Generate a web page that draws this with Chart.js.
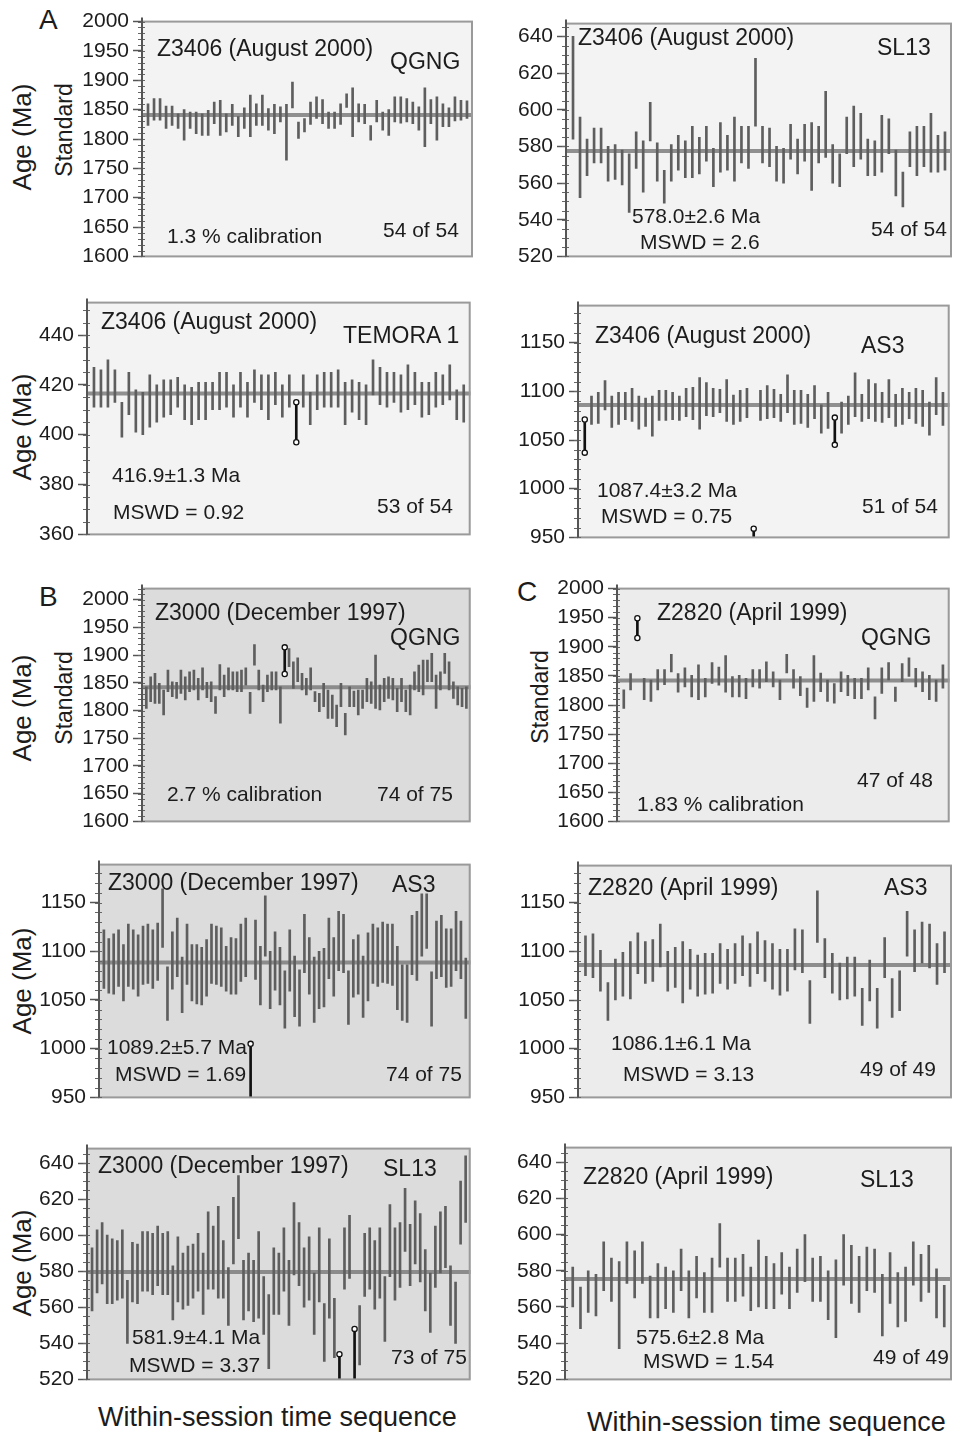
<!DOCTYPE html>
<html>
<head>
<meta charset="utf-8">
<script src="https://cdn.jsdelivr.net/npm/chart.js@4.4.1/dist/chart.umd.min.js"></script>
<style>
  body { margin: 0; width: 954px; height: 1436px; position: relative; overflow: hidden; background: #fff;
         font-family: "Liberation Sans", Arial, Helvetica, sans-serif; color: #1c1c1c; }
  canvas { position: absolute; }
  .t { position: absolute; white-space: nowrap; line-height: 1; font-size: 21px; }
  .h { font-size: 23px; }
  .big { font-size: 28px; }
  .xl { font-size: 27px; }
  .r { position: absolute; white-space: nowrap; line-height: 1; transform: translate(-50%, -50%) rotate(-90deg); }
</style>
</head>
<body>

<!-- panel letters and y titles -->
<div class="t big" style="left:39px;top:6px">A</div>
<div class="t big" style="left:39px;top:583px">B</div>
<div class="t big" style="left:517px;top:578px">C</div>
<div class="r" style="left:22px;top:137px;font-size:26px">Age (Ma)</div>
<div class="r" style="left:64px;top:130px;font-size:23px">Standard</div>
<div class="r" style="left:22px;top:427px;font-size:26px">Age (Ma)</div>
<div class="r" style="left:22px;top:708px;font-size:26px">Age (Ma)</div>
<div class="r" style="left:64px;top:698px;font-size:23px">Standard</div>
<div class="r" style="left:540px;top:697px;font-size:23px">Standard</div>
<div class="r" style="left:22px;top:981px;font-size:26px">Age (Ma)</div>
<div class="r" style="left:22px;top:1263px;font-size:26px">Age (Ma)</div>
<div class="t xl" style="left:98px;top:1404px">Within-session time sequence</div>
<div class="t xl" style="left:587px;top:1409px">Within-session time sequence</div>

<script>
// ---- values: lower / upper end of each error bar ----
const aQgngHi = [1860,1869,1869,1856,1856,1843,1850,1846,1846,1843,1849,1863,1866,1843,1859,1838,1853,1875,1860,1875,1852,1859,1855,1859,1897,1829,1835,1863,1872,1867,1846,1846,1860,1877,1887,1860,1859,1823,1866,1846,1850,1872,1872,1869,1863,1855,1887,1867,1872,1860,1853,1872,1866,1865];
const aQgngLo = [1823,1832,1832,1818,1823,1818,1798,1818,1809,1806,1806,1826,1806,1812,1823,1804,1818,1804,1823,1823,1815,1809,1829,1764,1853,1801,1812,1825,1835,1826,1818,1818,1825,1854,1804,1829,1826,1798,1829,1815,1806,1829,1827,1829,1826,1815,1787,1826,1798,1821,1821,1831,1832,1835];

const aSl13Hi = [640,596,584,590,590,580,581,578,576,588,583,604,582,567,581,586,583,591,585,591,579,593,586,596,591,591,628,591,590,580,579,592,584,592,593,591,610,581,576,596,602,598,584,583,597,595,578,566,588,591,591,598,586,588];
const aSl13Lo = [584,552,564,571,571,561,562,559,544,568,555,583,561,549,561,567,563,563,565,572,558,566,567,561,571,568,591,571,569,561,560,573,565,572,556,571,574,560,558,576,569,573,564,564,566,576,553,547,569,564,569,566,566,567];

const aTemHi = [427,426,430,426,413,425,418,417,424,420,422,422,423,420,419,421,421,421,425,425,420,425,421,426,424,424,425,420,424,413,424,417,424,425,425,426,421,422,421,420,430,427,425,425,424,428,425,421,421,425,424,428,418,420];
const aTemLo = [411,411,411,413,399,408,401,400,403,405,407,408,411,406,404,406,406,410,410,411,407,411,407,413,410,406,412,407,411,397,411,404,410,411,411,411,404,409,406,404,416,412,411,413,409,410,412,407,408,411,412,414,406,405];

const aAs3Hi = [1071,1095,1099,1111,1095,1099,1099,1103,1095,1093,1095,1101,1101,1099,1095,1103,1104,1114,1109,1103,1102,1112,1096,1101,1103,959,1101,1106,1102,1097,1117,1101,1101,1097,1106,1086,1099,1073,1089,1095,1119,1097,1112,1108,1099,1112,1097,1103,1099,1103,1101,1089,1114,1099];
const aAs3Lo = [1037,1066,1067,1081,1063,1066,1071,1069,1061,1064,1054,1070,1070,1071,1070,1074,1071,1061,1075,1074,1078,1069,1066,1069,1073,925,1070,1072,1073,1069,1078,1066,1067,1063,1072,1057,1062,1045,1057,1066,1074,1069,1072,1069,1068,1073,1064,1066,1072,1067,1064,1055,1076,1065];

const bQgngHi = [1843,1861,1867,1849,1837,1873,1852,1851,1873,1861,1870,1873,1858,1877,1851,1852,1825,1883,1864,1877,1870,1870,1873,1877,1833,1919,1873,1846,1864,1870,1870,1843,1914,1912,1888,1895,1867,1858,1877,1834,1831,1849,1837,1828,1810,1849,1795,1843,1835,1837,1837,1858,1852,1900,1846,1858,1861,1858,1840,1858,1837,1846,1870,1882,1891,1891,1903,1864,1870,1903,1888,1852,1843,1840,1843];
const bQgngLo = [1804,1816,1813,1813,1792,1834,1825,1822,1831,1819,1834,1837,1819,1837,1823,1816,1795,1837,1825,1837,1837,1834,1834,1846,1795,1882,1837,1816,1834,1837,1837,1777,1866,1879,1840,1852,1837,1828,1837,1816,1798,1807,1786,1786,1771,1807,1756,1807,1807,1792,1804,1816,1813,1804,1801,1816,1822,1819,1798,1816,1798,1792,1837,1834,1828,1852,1852,1804,1837,1867,1837,1822,1810,1807,1804];

const cQgngHi = [1826,1854,1949,1846,1843,1861,1861,1887,1854,1864,1851,1869,1846,1873,1865,1885,1849,1851,1846,1861,1861,1874,1857,1843,1887,1861,1849,1829,1885,1855,1843,1837,1857,1851,1846,1846,1864,1814,1864,1873,1831,1871,1881,1863,1857,1851,1843,1869];
const cQgngLo = [1794,1826,1915,1809,1806,1826,1835,1857,1822,1831,1814,1809,1814,1837,1834,1822,1814,1814,1811,1831,1829,1840,1831,1809,1855,1829,1816,1796,1806,1823,1806,1803,1823,1816,1811,1811,1826,1776,1820,1843,1806,1840,1849,1831,1823,1809,1806,1829];

const bAs3Hi = [1122,1113,1118,1122,1107,1128,1122,1117,1126,1128,1122,1129,1164,1084,1120,1134,1094,1128,1107,1107,1104,1112,1128,1126,1124,1105,1114,1113,1128,1134,1005,1132,1105,1157,1100,1120,1104,1080,1122,1095,1081,1138,1114,1094,1100,1103,1134,1114,1141,1138,1080,1112,1117,1095,1119,1128,1124,1130,1128,1128,1105,1086,1086,1137,1141,1159,1159,1079,1131,1137,1123,1123,1141,1131,1093];
const bAs3Lo = [1062,1057,1056,1064,1049,1064,1061,1054,1066,1067,1062,1070,1104,1029,1061,1074,1037,1066,1049,1046,1045,1054,1067,1066,1064,1059,1056,1056,1069,1074,930,1071,1045,1095,1041,1060,1045,1021,1059,1033,1023,1078,1056,1027,1041,1043,1072,1054,1080,1078,1025,1053,1056,1032,1049,1067,1064,1068,1067,1065,1040,1029,1027,1076,1070,1095,1103,1023,1072,1074,1063,1064,1080,1072,1031];

const cAs3Hi = [1116,1118,1101,1068,1092,1099,1110,1119,1110,1112,1128,1100,1104,1110,1102,1096,1098,1098,1108,1102,1108,1116,1108,1120,1111,1108,1102,1102,1123,1122,1070,1162,1113,1098,1088,1094,1094,1062,1091,1062,1114,1072,1080,1141,1122,1130,1128,1108,1120];
const cAs3Lo = [1075,1073,1059,1029,1050,1054,1051,1077,1067,1069,1084,1059,1063,1047,1061,1054,1056,1057,1067,1061,1067,1075,1064,1077,1069,1061,1055,1059,1081,1078,1026,1109,1073,1057,1050,1051,1054,1024,1049,1021,1073,1032,1039,1095,1079,1088,1083,1066,1078];

const bSl13Hi = [593,603,607,600,598,597,603,575,596,595,602,602,601,605,601,602,583,599,590,594,595,601,590,613,605,616,597,582,621,633,586,590,586,602,577,567,593,590,604,586,618,607,593,599,579,604,562,598,565,534,604,611,548,561,601,604,597,604,577,617,604,607,626,606,619,612,592,579,605,613,616,583,574,630,644];
const bSl13Lo = [558,568,573,562,562,564,565,540,563,562,569,569,567,572,567,567,553,563,559,561,565,569,556,570,570,565,565,550,584,598,553,558,552,554,545,526,556,556,569,550,578,572,560,564,545,563,530,554,532,512,570,576,512,528,566,570,559,565,541,577,564,571,591,572,584,574,558,546,571,579,582,550,540,595,607];

const cSl13Hi = [582,571,580,578,596,587,585,596,591,596,577,584,582,580,592,580,588,579,587,606,587,587,589,582,597,588,584,590,582,592,600,587,588,580,586,600,594,588,593,592,578,590,579,582,596,589,594,581,572];
const cSl13Lo = [560,548,557,555,569,563,537,573,565,573,554,554,559,557,569,554,565,557,557,582,563,563,566,558,560,559,559,567,559,568,574,563,563,553,543,572,562,557,569,568,544,562,549,552,572,563,568,554,549];

// weighted mean line of each panel (as drawn)
const means = { aQgng: 1841, aSl13: 577.5, aTem: 416.5, aAs3: 1086, bQgng: 1842, cQgng: 1842, bAs3: 1088.5, cAs3: 1086, bSl13: 579.5, cSl13: 575.5 };

// rejected analyses (1-based position in the sequence)
const aTemRejected = [30];
const aAs3Rejected = [1, 26, 38];
const bQgngRejected = [33];
const cQgngRejected = [3];
const bAs3Rejected = [31];
const bSl13Rejected = [50, 53];

// y tick labels
const qgngTicks = [1600, 1650, 1700, 1750, 1800, 1850, 1900, 1950, 2000];
const sl13Ticks = [520, 540, 560, 580, 600, 620, 640];
const temoraTicks = [360, 380, 400, 420, 440];
const as3Ticks = [950, 1000, 1050, 1100, 1150];

// ---- drawing ----
const FONT = '"Liberation Sans", Arial, Helvetica, sans-serif';
const AXIS_W = 80, PAD_T = 16, PAD_B = 16, PAD_R = 3;

const panelBox = {
  id: 'panelBox',
  beforeDraw(chart, args, opts) {
    const a = chart.chartArea, ctx = chart.ctx;
    ctx.save();
    ctx.fillStyle = opts.bg;
    ctx.fillRect(a.left, a.top, a.right - a.left, a.bottom - a.top);
    ctx.restore();
  },
  afterDraw(chart, args, opts) {
    const a = chart.chartArea, ctx = chart.ctx, y = chart.scales.y;
    ctx.save();
    ctx.strokeStyle = '#9a9a9a';
    ctx.lineWidth = 2;
    ctx.strokeRect(a.left, a.top, a.right - a.left - 1, a.bottom - a.top);
    // ruler-like minor ticks on the age axis
    ctx.strokeStyle = '#666';
    ctx.lineWidth = 1;
    const k0 = Math.ceil(y.min / opts.minor), k1 = Math.floor(y.max / opts.minor);
    for (let k = k0; k <= k1; k++) {
      const py = Math.round(y.getPixelForValue(k * opts.minor)) + 0.5;
      ctx.beginPath();
      ctx.moveTo(a.left - 4, py);
      ctx.lineTo(a.left + 3, py);
      ctx.stroke();
    }
    ctx.beginPath();
    ctx.strokeStyle = '#555';
    ctx.lineWidth = 2;
    ctx.moveTo(a.left, a.top - 4);
    ctx.lineTo(a.left, a.bottom);
    ctx.stroke();
    ctx.restore();
  }
};

function makePanel(p) {
  const n = p.lo.length;
  const rej = p.rejected || [];
  const cv = document.createElement('canvas');
  cv.width = AXIS_W + (p.right - p.left) + PAD_R;
  cv.height = (p.bottom - p.top) + PAD_T + PAD_B;
  cv.style.left = (p.left - AXIS_W) + 'px';
  cv.style.top = (p.top - PAD_T) + 'px';
  document.body.appendChild(cv);

  const bars = p.lo.map((v, i) => ({ x: i + 1, y: [v, p.hi[i]] }));
  const colors = p.lo.map((v, i) => rej.includes(i + 1) ? '#111' : '#5e5e5e');
  const ends = [];
  rej.forEach((k) => {
    ends.push({ x: k, y: p.hi[k - 1] });
    ends.push({ x: k, y: p.lo[k - 1] });
  });

  new Chart(cv, {
    type: 'bar',
    data: {
      datasets: [
        { type: 'scatter', data: ends, pointRadius: 2.6, pointBackgroundColor: '#fff',
          pointBorderColor: '#111', pointBorderWidth: 1.3, order: 0 },
        { type: 'bar', data: bars, backgroundColor: colors, barThickness: 2, borderWidth: 0, order: 1 },
        { type: 'line', data: [{ x: 0, y: p.mean }, { x: n + 1, y: p.mean }],
          borderColor: 'rgba(125,125,125,0.85)', borderWidth: 4, pointRadius: 0, order: 2 }
      ]
    },
    options: {
      responsive: false,
      animation: false,
      events: [],
      layout: { padding: { top: PAD_T, bottom: PAD_B, left: 0, right: PAD_R } },
      plugins: {
        legend: { display: false },
        tooltip: { enabled: false },
        panelBox: { bg: p.bg, minor: p.minor }
      },
      scales: {
        x: { type: 'linear', min: 0, max: n + 1, offset: false, display: false },
        y: {
          min: p.min, max: p.max,
          afterFit: (s) => { s.width = AXIS_W; },
          afterBuildTicks: (s) => { s.ticks = p.ticks.map((v) => ({ value: v })); },
          ticks: { font: { family: FONT, size: 21 }, color: '#1c1c1c', padding: 4,
                   callback: (v) => String(v) },
          grid: { drawOnChartArea: false, tickLength: 9, tickColor: '#555', tickWidth: 1.5 },
          border: { display: false }
        }
      }
    },
    plugins: [panelBox]
  });
}

const BG_A = '#f3f3f3', BG_B = '#dcdcdc', BG_C = '#ececec';

makePanel({ left: 142, top: 21, right: 473, bottom: 257, min: 1600, max: 2000, ticks: qgngTicks, minor: 10,
  lo: aQgngLo, hi: aQgngHi, mean: means.aQgng, bg: BG_A });
makePanel({ left: 566, top: 23, right: 952, bottom: 257, min: 520, max: 647, ticks: sl13Ticks, minor: 5,
  lo: aSl13Lo, hi: aSl13Hi, mean: means.aSl13, bg: BG_A });
makePanel({ left: 87, top: 302, right: 473, bottom: 535, min: 360, max: 453, ticks: temoraTicks, minor: 5,
  lo: aTemLo, hi: aTemHi, mean: means.aTem, bg: BG_A, rejected: aTemRejected });
makePanel({ left: 578, top: 305, right: 952, bottom: 538, min: 950, max: 1188, ticks: as3Ticks, minor: 10,
  lo: aAs3Lo, hi: aAs3Hi, mean: means.aAs3, bg: BG_A, rejected: aAs3Rejected });
makePanel({ left: 142, top: 588, right: 473, bottom: 822, min: 1600, max: 2020, ticks: qgngTicks, minor: 10,
  lo: bQgngLo, hi: bQgngHi, mean: means.bQgng, bg: BG_B, rejected: bQgngRejected });
makePanel({ left: 617, top: 588, right: 952, bottom: 822, min: 1600, max: 2000, ticks: qgngTicks, minor: 10,
  lo: cQgngLo, hi: cQgngHi, mean: means.cQgng, bg: BG_C, rejected: cQgngRejected });
makePanel({ left: 99, top: 864, right: 473, bottom: 1098, min: 950, max: 1189, ticks: as3Ticks, minor: 10,
  lo: bAs3Lo, hi: bAs3Hi, mean: means.bAs3, bg: BG_B, rejected: bAs3Rejected });
makePanel({ left: 578, top: 865, right: 952, bottom: 1098, min: 950, max: 1188, ticks: as3Ticks, minor: 10,
  lo: cAs3Lo, hi: cAs3Hi, mean: means.cAs3, bg: BG_C });
makePanel({ left: 87, top: 1148, right: 473, bottom: 1380, min: 520, max: 648, ticks: sl13Ticks, minor: 5,
  lo: bSl13Lo, hi: bSl13Hi, mean: means.bSl13, bg: BG_B, rejected: bSl13Rejected });
makePanel({ left: 565, top: 1147, right: 952, bottom: 1380, min: 520, max: 648, ticks: sl13Ticks, minor: 5,
  lo: cSl13Lo, hi: cSl13Hi, mean: means.cSl13, bg: BG_C });

// annotations inside the panels: [text, left, top, size class]
const notes = [
  ['Z3406 (August 2000)', 157, 37, 'h'], ['QGNG', 390, 50, 'h'], ['1.3 % calibration', 167, 225, ''], ['54 of 54', 383, 219, ''],
  ['Z3406 (August 2000)', 578, 26, 'h'], ['SL13', 877, 36, 'h'], ['578.0±2.6 Ma', 632, 205, ''], ['MSWD = 2.6', 640, 231, ''], ['54 of 54', 871, 218, ''],
  ['Z3406 (August 2000)', 101, 310, 'h'], ['TEMORA 1', 343, 324, 'h'], ['416.9±1.3 Ma', 112, 464, ''], ['MSWD = 0.92', 113, 501, ''], ['53 of 54', 377, 495, ''],
  ['Z3406 (August 2000)', 595, 324, 'h'], ['AS3', 861, 334, 'h'], ['1087.4±3.2 Ma', 597, 479, ''], ['MSWD = 0.75', 601, 505, ''], ['51 of 54', 862, 495, ''],
  ['Z3000 (December 1997)', 155, 601, 'h'], ['QGNG', 390, 626, 'h'], ['2.7 % calibration', 167, 783, ''], ['74 of 75', 377, 783, ''],
  ['Z2820 (April 1999)', 657, 601, 'h'], ['QGNG', 861, 626, 'h'], ['47 of 48', 857, 769, ''], ['1.83 % calibration', 637, 793, ''],
  ['Z3000 (December 1997)', 108, 871, 'h'], ['AS3', 392, 873, 'h'], ['1089.2±5.7 Ma', 107, 1036, ''], ['MSWD = 1.69', 115, 1063, ''], ['74 of 75', 386, 1063, ''],
  ['Z2820 (April 1999)', 588, 876, 'h'], ['AS3', 884, 876, 'h'], ['1086.1±6.1 Ma', 611, 1032, ''], ['MSWD = 3.13', 623, 1063, ''], ['49 of 49', 860, 1058, ''],
  ['Z3000 (December 1997)', 98, 1154, 'h'], ['SL13', 383, 1157, 'h'], ['581.9±4.1 Ma', 132, 1326, ''], ['MSWD = 3.37', 129, 1354, ''], ['73 of 75', 391, 1346, ''],
  ['Z2820 (April 1999)', 583, 1165, 'h'], ['SL13', 860, 1168, 'h'], ['575.6±2.8 Ma', 636, 1326, ''], ['MSWD = 1.54', 643, 1350, ''], ['49 of 49', 873, 1346, '']
];
notes.forEach(([txt, x, y, cls]) => {
  const d = document.createElement('div');
  d.className = 't ' + cls;
  d.style.left = x + 'px';
  d.style.top = y + 'px';
  d.textContent = txt;
  document.body.appendChild(d);
});
</script>
</body>
</html>
